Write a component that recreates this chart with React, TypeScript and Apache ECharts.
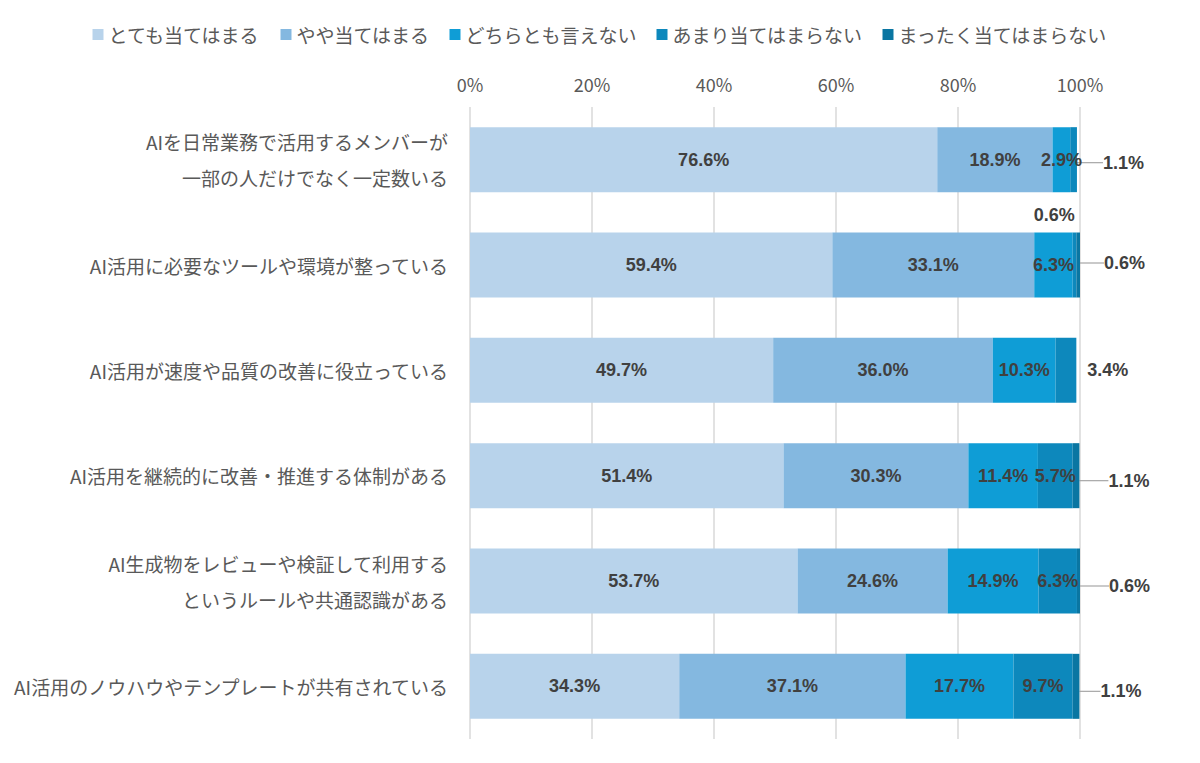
import { useEffect, useRef } from 'react'
import * as echarts from 'echarts'

// 設問（上から順に）
const categories = [
  'AIを日常業務で活用するメンバーが\n一部の人だけでなく一定数いる',
  'AI活用に必要なツールや環境が整っている',
  'AI活用が速度や品質の改善に役立っている',
  'AI活用を継続的に改善・推進する体制がある',
  'AI生成物をレビューや検証して利用する\nというルールや共通認識がある',
  'AI活用のノウハウやテンプレートが共有されている'
]

const seriesNames = ['とても当てはまる', 'やや当てはまる', 'どちらとも言えない', 'あまり当てはまらない', 'まったく当てはまらない']

// 各回答の割合（%）
const veryTrue = [76.6, 59.4, 49.7, 51.4, 53.7, 34.3]
const somewhatTrue = [18.9, 33.1, 36.0, 30.3, 24.6, 37.1]
const neutral = [2.9, 6.3, 10.3, 11.4, 14.9, 17.7]
const notReally = [1.1, 0.6, 3.4, 5.7, 6.3, 9.7]
const notAtAll = [0, 0.6, 0, 1.1, 0.6, 1.1]

const xTicks = [0, 20, 40, 60, 80, 100]

const colors = ['#b8d3eb', '#84b8e0', '#0f9dd6', '#0d88bc', '#0a76a2']

// バーの外に出すラベル（シリーズ番号-行番号）: バー右端からのずれ
const outside: Record<string, { dx: number; dy: number; line: boolean; center?: boolean }> = {
  '3-0': { dx: 26, dy: 3, line: true },
  '3-1': { dx: -22, dy: -50, line: false, center: true },
  '3-2': { dx: 11, dy: 0, line: false },
  '4-1': { dx: 24, dy: -2, line: true },
  '4-3': { dx: 29, dy: 5, line: true },
  '4-4': { dx: 29, dy: 5, line: true },
  '4-5': { dx: 21, dy: 5, line: true }
}

const App: React.FC = () => {
  const chartRef = useRef<HTMLDivElement | null>(null)

  useEffect(() => {
    if (chartRef.current === null) return
    const chart = echarts.init(chartRef.current, undefined, { renderer: 'svg' })
    const values = [veryTrue, somewhatTrue, neutral, notReally, notAtAll]

    const series = values.map((data, si) => ({
      name: seriesNames[si],
      type: 'bar',
      stack: 'total',
      barWidth: 65,
      data: data.map((v, ri) => {
        const key = `${si}-${ri}`
        return {
          value: v,
          label: { show: v > 0 },
          labelLine: { show: outside[key]?.line ?? false }
        }
      }),
      itemStyle: { color: colors[si] },
      label: {
        show: true,
        position: 'inside',
        formatter: (p: any) => (p.value > 0 ? p.value.toFixed(1) + '%' : ''),
        color: '#404040',
        fontFamily: 'Liberation Sans, Arial, sans-serif',
        fontWeight: 'bold',
        fontSize: 18
      },
      labelLine: {
        lineStyle: { color: '#a6a6a6', width: 1.2 }
      },
      labelLayout: (params: any) => {
        const o = outside[`${si}-${params.dataIndex}`]
        if (!o) return {}
        const r = params.rect
        return {
          x: r.x + r.width + o.dx,
          y: r.y + r.height / 2 + o.dy,
          align: o.center ? 'center' : 'left',
          verticalAlign: 'middle'
        }
      }
    }))

    const option = {
      animation: false,
      color: colors,
      legend: {
        top: 20,
        left: 'center',
        itemWidth: 11,
        itemHeight: 11,
        itemGap: 20,
        icon: 'rect',
        textStyle: {
          color: '#595959',
          fontSize: 19,
          fontFamily: 'Noto Sans CJK JP'
        },
        data: seriesNames
      },
      grid: {
        left: 470,
        right: 120,
        top: 107,
        bottom: 24
      },
      xAxis: {
        type: 'value',
        position: 'top',
        min: 0,
        max: 100,
        interval: 20,
        axisLine: { show: false },
        axisTick: { show: false },
        splitLine: { lineStyle: { color: '#d9d9d9', width: 1.5 } },
        axisLabel: {
          margin: 14,
          color: '#595959',
          fontSize: 18,
          fontFamily: 'Noto Sans CJK JP',
          formatter: (v: number) => (xTicks.includes(v) ? v + '%' : '')
        }
      },
      yAxis: {
        type: 'category',
        inverse: true,
        data: categories,
        axisLine: { show: false },
        axisTick: { show: false },
        axisLabel: {
          margin: 22,
          color: '#595959',
          fontSize: 19,
          lineHeight: 36,
          align: 'right',
          fontFamily: 'Noto Sans CJK JP'
        }
      },
      series
    }

    chart.setOption(option as any)
    return () => {
      chart.dispose()
    }
  }, [])

  return (
    <div
      ref={chartRef}
      style={{ position: 'absolute', left: 0, top: 0, width: 1200, height: 763 }}
    ></div>
  )
}

export default App
